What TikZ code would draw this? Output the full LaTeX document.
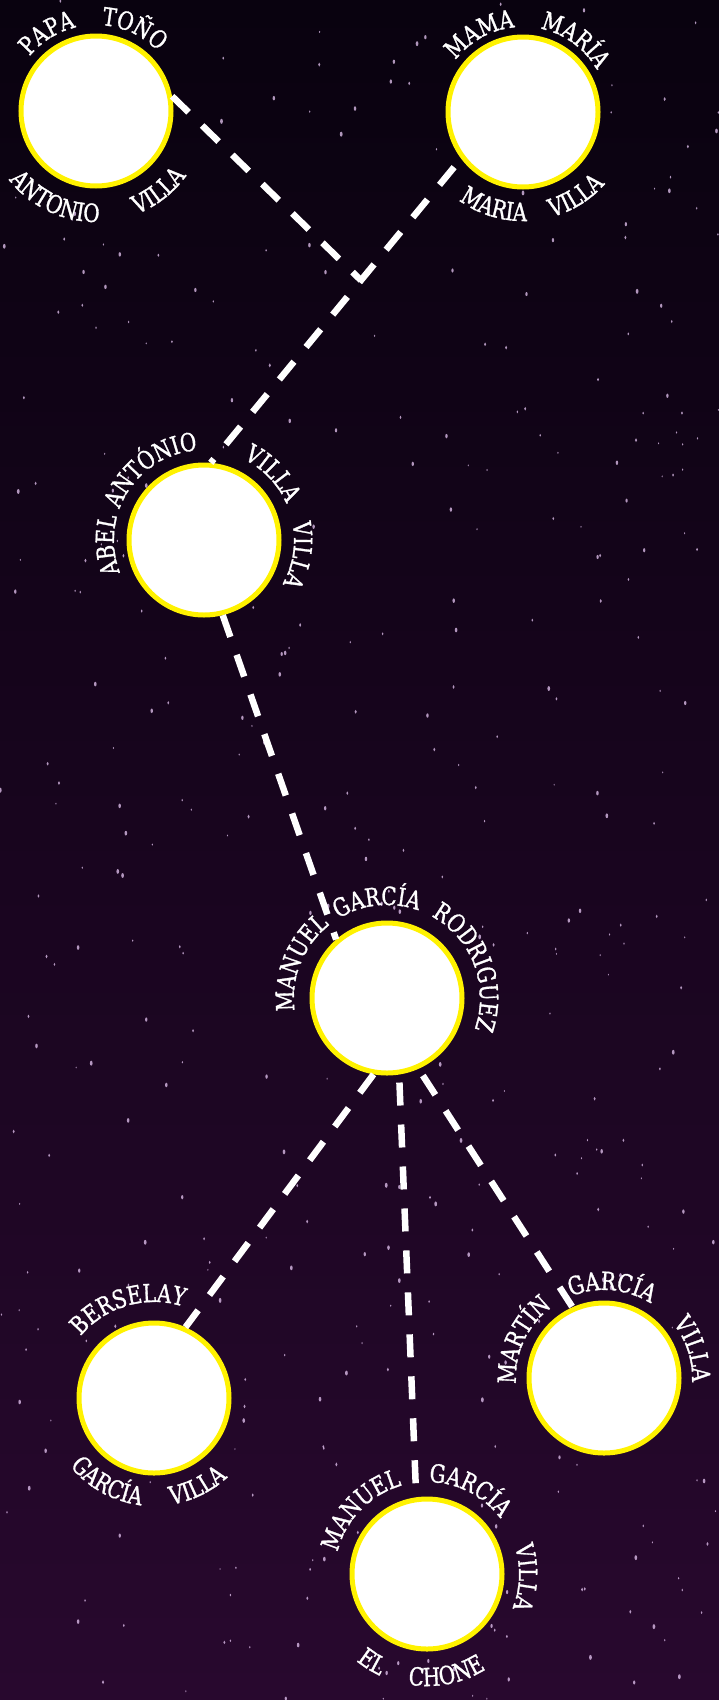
\documentclass[tikz,border=0pt]{standalone}
\usepackage{fontspec}
\setmainfont[FakeStretch=0.8, FakeBold=1.2]{DejaVu Serif}
\usepackage{xcolor}
\usetikzlibrary{positioning, calc, decorations.text}

\definecolor{skytop}{RGB}{9,2,15}
\definecolor{skymid}{RGB}{20,4,26}
\definecolor{skybot}{RGB}{40,8,46}
\definecolor{starpink}{RGB}{232,200,245}

\newcommand{\lblfont}{\fontsize{25}{28}\selectfont}
% word over the rim of a circle, read clockwise (node, mid angle, radius, word)
\newcommand{\rimtop}[4]{\path[decorate, decoration={text along path, text align=center, text color=white, text={|\lblfont|#4}}]
  ([shift={(#2+70:#3)}]#1.center) arc[start angle=#2+70, end angle=#2-70, radius=#3];}
% word under the rim, read counter clockwise
\newcommand{\rimbot}[4]{\path[decorate, decoration={text along path, text align=center, text color=white, text={|\lblfont|#4}}]
  ([shift={(#2-70:#3)}]#1.center) arc[start angle=#2-70, end angle=#2+70, radius=#3];}

\begin{document}
\begin{tikzpicture}[x=1pt, y=1pt]
        \tikzstyle{person} = [circle, draw=yellow, fill=white, line width=5pt, minimum size=150pt, inner sep=0pt]
        \tikzstyle{link} = [white, line width=6.5pt, dash pattern=on 23pt off 19pt]

        % Sky
        \useasboundingbox (0,0) rectangle (719,-1700);
        \shade[top color=skytop, middle color=skymid, bottom color=skybot] (0,0) rectangle (719,-1700);
        \pgfmathsetseed{17}
        \foreach \s in {1,...,420}{
            \pgfmathsetmacro{\sx}{719*rnd}
            \pgfmathsetmacro{\sy}{1700*rnd}
            \pgfmathsetmacro{\sr}{0.5+0.9*rnd}
            \fill[starpink, opacity=0.75] (\sx,-\sy) ellipse [x radius=\sr, y radius=1.8*\sr];
        }

        % Grandparents
        \node (papa) [person] at (96,-111) {};
        \node (mama) [person] at (523,-112) {};

        % Father
        \node (abel) [person] at (204,-540) {};
        \node (manuel) [person] at (387,-998) {};

        % Children
        \node (berselay) [person] at (154,-1398) {};
        \node (martin) [person] at (604,-1378) {};
        \node (chone) [person] at (427,-1574) {};

        % Links
        \coordinate (meet) at ($(mama.217)!0.4!(abel.85)$);
        \draw [link] (papa.11) -- (meet);
        \draw [link, shorten <=11pt] (mama.217) -- (abel.85);
        \draw [link] (abel.284) -- (manuel.131);
        \draw [link] (manuel.260) -- (berselay.66);
        \draw [link, shorten <=8pt, shorten >=14pt] (manuel.279) -- (chone.98);
        \draw [link, shorten <=8pt] (manuel.294) -- (martin.114);

        % Names
        \rimtop{papa}{122}{86}{PAPA}
        \rimtop{papa}{65}{86}{TOÑO}
        \rimbot{papa}{245}{111}{ANTONIO}
        \rimbot{papa}{308}{111}{VILLA}

        \rimtop{mama}{119}{85}{MAMA}
        \rimtop{mama}{54}{85}{MARÍA}
        \rimbot{mama}{253}{109}{MARIA}
        \rimbot{mama}{302}{109}{VILLA}

        \rimtop{abel}{183}{90}{ABEL}
        \rimtop{abel}{127}{90}{ANTÓNIO}
        \rimtop{abel}{44}{90}{VILLA}
        \rimtop{abel}{351}{90}{VILLA}

        \rimtop{manuel}{158}{93}{MANUEL}
        \rimtop{manuel}{96}{93}{GARCÍA}
        \rimtop{manuel}{21}{93}{RODRIGUEZ}

        \rimtop{berselay}{106}{96}{BERSELAY}
        \rimbot{berselay}{241}{108}{GARCÍA}
        \rimbot{berselay}{296}{108}{VILLA}

        \rimtop{martin}{155}{88}{MARTÍN}
        \rimtop{martin}{85}{88}{GARCÍA}
        \rimtop{martin}{18}{88}{VILLA}

        \rimtop{chone}{136}{92}{MANUEL}
        \rimtop{chone}{63}{92}{GARCÍA}
        \rimtop{chone}{358}{92}{VILLA}
        \rimbot{chone}{238}{112}{EL}
        \rimbot{chone}{281}{112}{CHONE}
\end{tikzpicture}
\end{document}
